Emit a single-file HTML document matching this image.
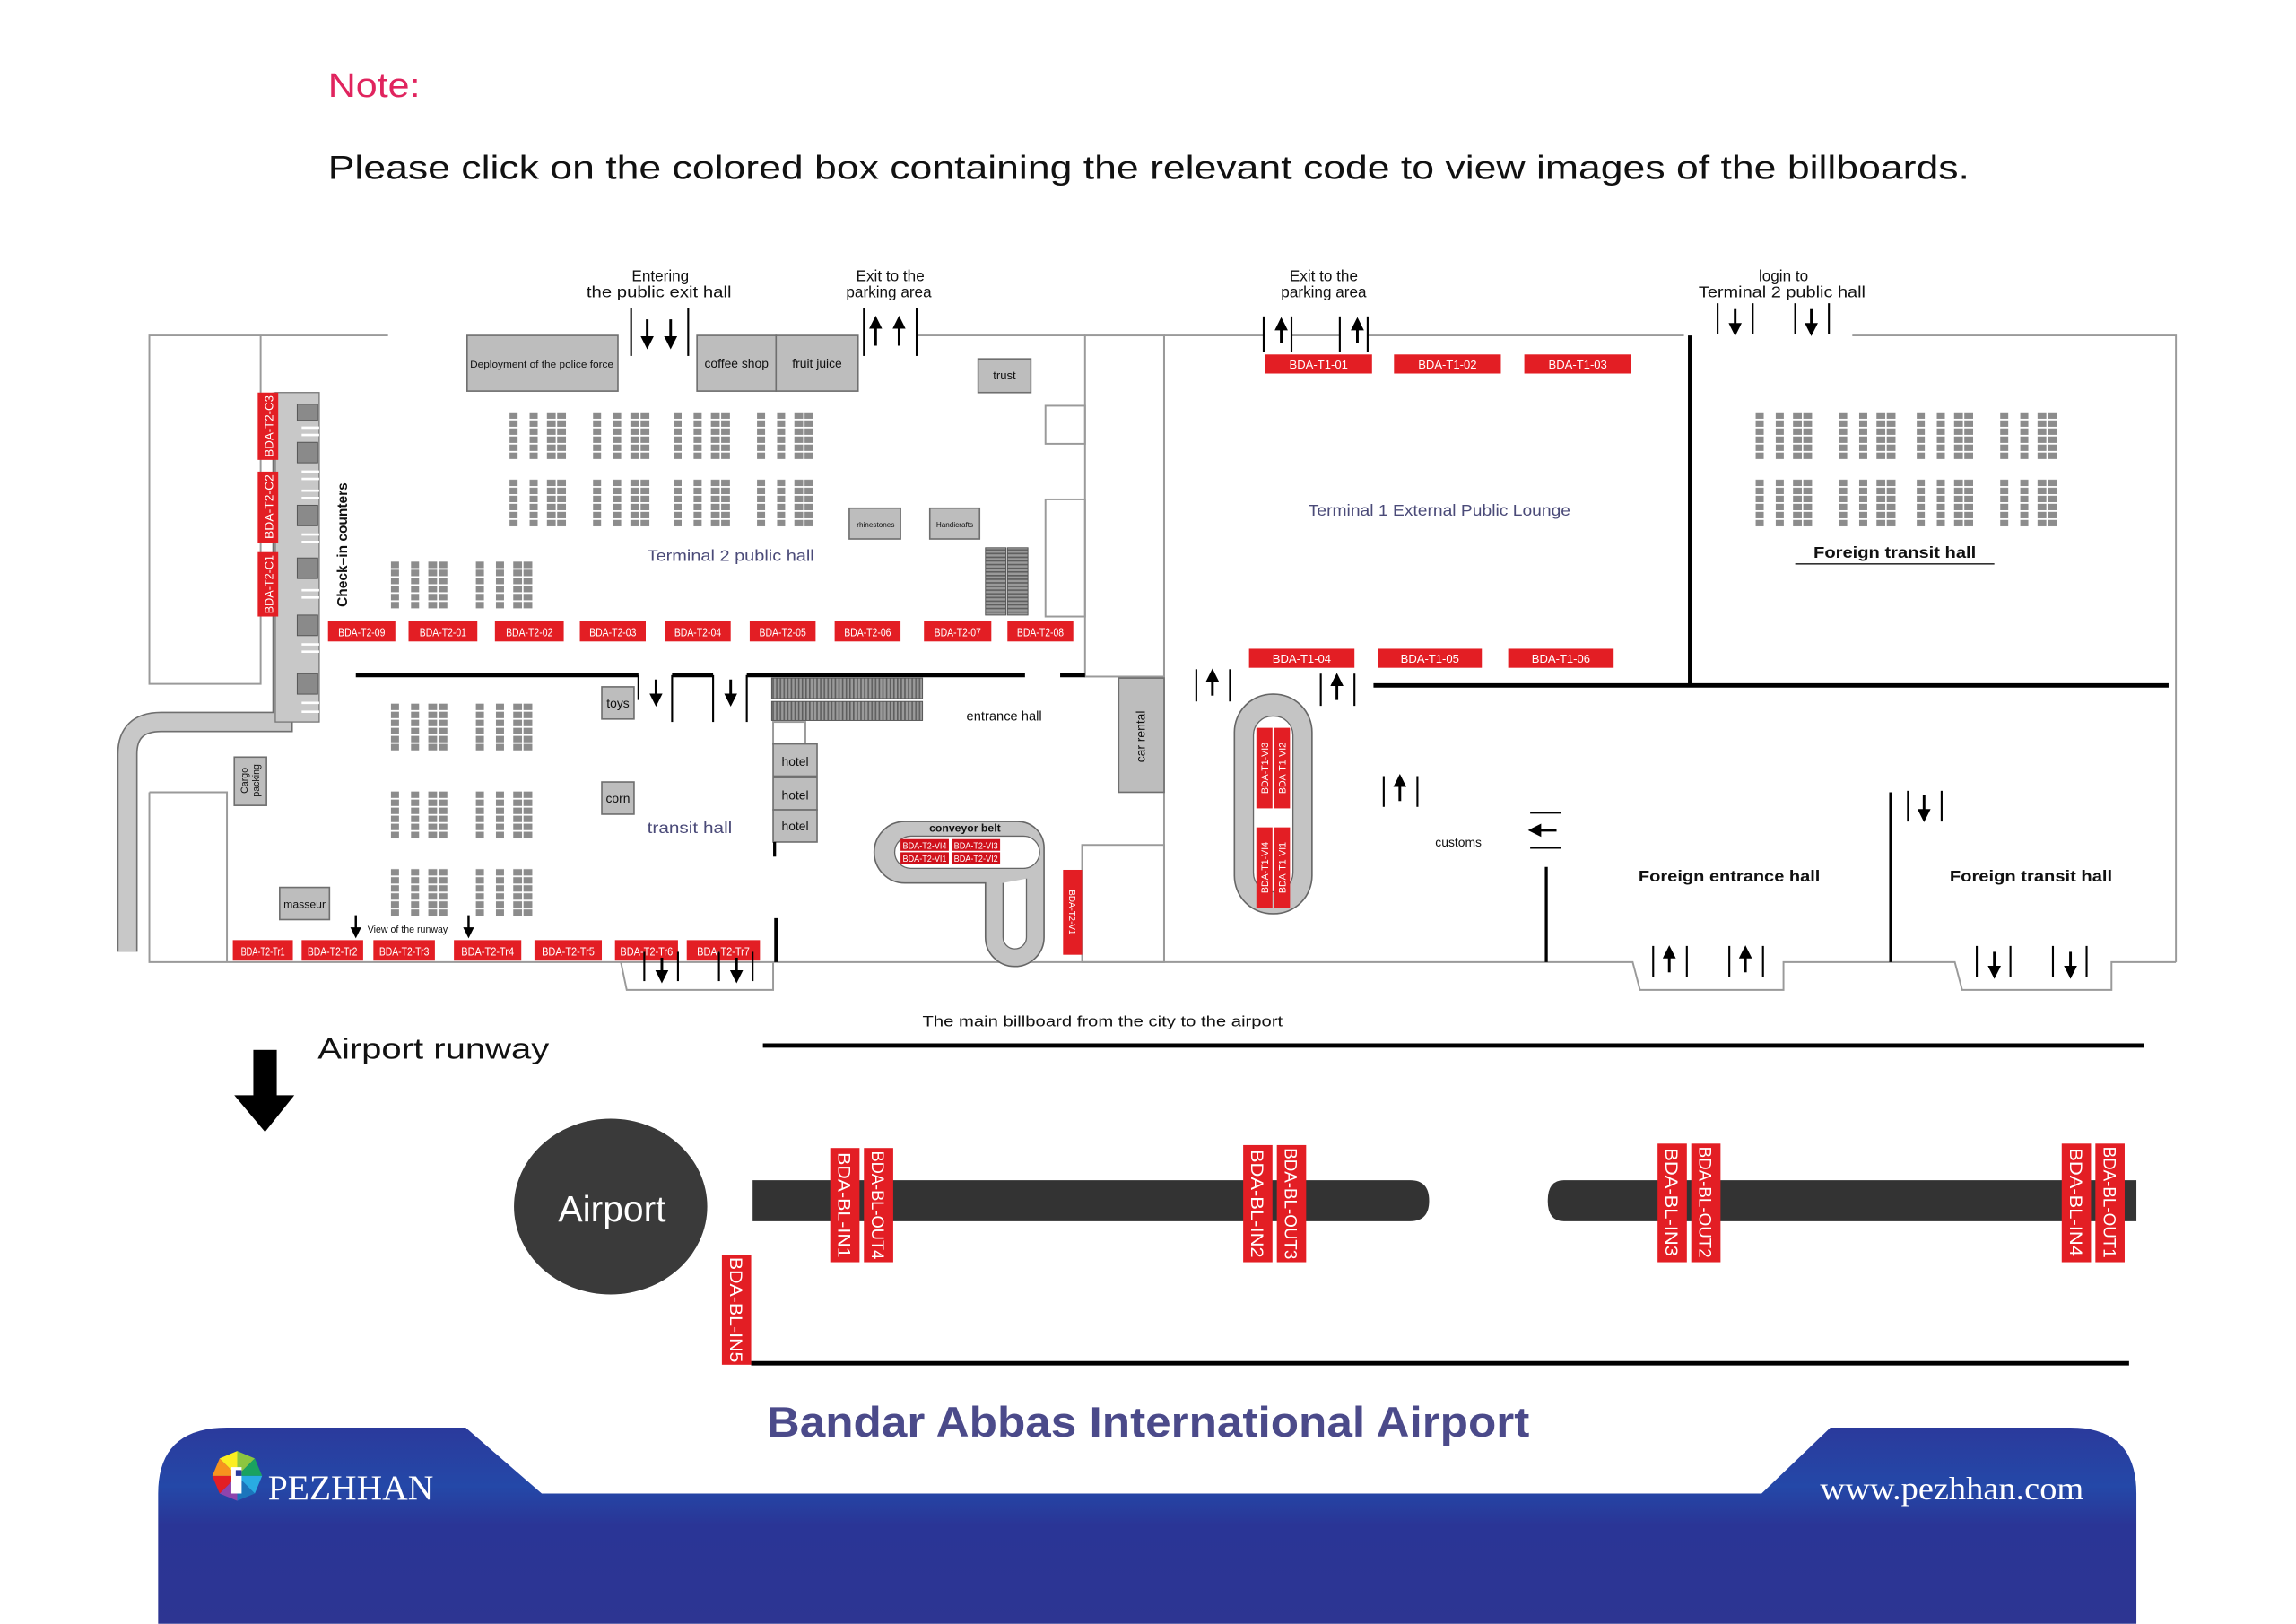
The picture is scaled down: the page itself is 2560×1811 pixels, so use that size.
<!DOCTYPE html>
<html><head><meta charset="utf-8"><style>
html,body{margin:0;padding:0;background:#fff}
svg{display:block}
text{font-family:"Liberation Sans",sans-serif}
.lbl{font-size:8px;fill:#fff;text-anchor:middle}
.g{fill:#bdbdbd;stroke:#6f6f6f;stroke-width:1}
.wall{stroke:#9a9a9a;stroke-width:1.2;fill:none}
.blk{stroke:#000;stroke-width:3;fill:none}
.gl{stroke:#000;stroke-width:1.3}
.tb{font-size:10.5px;fill:#111;text-anchor:middle}
</style></head><body>
<svg width="2560" height="1811" viewBox="0 0 1568 1109" xmlns="http://www.w3.org/2000/svg">
<defs>
<pattern id="sp" patternUnits="userSpaceOnUse" width="100" height="5.5"><rect x="0" y="0.5" width="100" height="4.4" fill="#8c8c8c"/></pattern>
<g id="sg">
<rect x="0" y="0" width="5.5" height="33" fill="url(#sp)"/>
<rect x="13.7" y="0" width="5.5" height="33" fill="url(#sp)"/>
<rect x="25.5" y="0" width="6" height="33" fill="url(#sp)"/>
<rect x="32.5" y="0" width="6" height="33" fill="url(#sp)"/>
</g>
<pattern id="esc" patternUnits="userSpaceOnUse" width="2.5" height="10"><rect width="2.5" height="10" fill="#9a9a9a"/><rect width="1" height="10" fill="#5e5e5e"/></pattern>
<pattern id="escv" patternUnits="userSpaceOnUse" width="10" height="2.5"><rect width="10" height="2.5" fill="#9a9a9a"/><rect width="10" height="1" fill="#5e5e5e"/></pattern>
<linearGradient id="bg" x1="0" y1="0" x2="0" y2="1"><stop offset="0" stop-color="#2b3a9c"/><stop offset="0.3" stop-color="#2448a8"/><stop offset="0.5" stop-color="#2a3596"/><stop offset="1" stop-color="#2d3592"/></linearGradient>
<marker id="ah" viewBox="0 0 10 10" refX="5" refY="5" markerWidth="5" markerHeight="5" orient="auto"><path d="M0,0 L10,5 L0,10 z" fill="#000"/></marker>
</defs>

<!-- header -->
<text x="224" y="66" font-size="23" fill="#e0245e" textLength="63" lengthAdjust="spacingAndGlyphs">Note:</text>
<text x="224" y="122" font-size="22.5" fill="#111" textLength="1121" lengthAdjust="spacingAndGlyphs">Please click on the colored box containing the relevant code to view images of the billboards.</text>

<!-- ===== T2 walls ===== -->
<path class="wall" d="M265,229 H102 V467 H178 V229"/>
<path class="wall" d="M102,541 H155 V657 M102,541 V657 H530"/>
<path class="wall" d="M626,229 H741"/>
<rect x="741" y="229" width="54" height="233" class="wall"/>
<rect x="714" y="277" width="27" height="26" class="wall"/>
<rect x="714" y="341" width="27" height="80" class="wall"/>
<rect x="739" y="577" width="56" height="80" class="wall"/>
<path class="wall" d="M530,657 H795 M795,229 V657"/>
<path class="wall" d="M424,657 L428,676 H528 V657"/>

<!-- jetway / check-in strip -->
<path d="M87,650 V515 Q87,493 110,493 H193 V268" fill="none" stroke="#6f6f6f" stroke-width="14"/>
<path d="M87,650 V515 Q87,493 110,493 H193 V268" fill="none" stroke="#c8c8c8" stroke-width="12"/>
<rect x="188" y="268" width="30" height="225" fill="#c8c8c8" stroke="#777" stroke-width="0.8"/>
<g fill="#8a8a8a" stroke="#555" stroke-width="0.6">
<rect x="203" y="276" width="14" height="11"/><rect x="203" y="302" width="14" height="14"/><rect x="203" y="345" width="14" height="14"/><rect x="203" y="381" width="14" height="14"/><rect x="203" y="420" width="14" height="14"/><rect x="203" y="460" width="14" height="14"/>
</g>
<g stroke="#fff" stroke-width="1.6">
<path d="M206,292 H218 M206,297 H218 M206,322 H218 M206,327 H218 M206,335 H218 M206,340 H218 M206,365 H218 M206,370 H218 M206,403 H218 M206,408 H218 M206,440 H218 M206,445 H218 M206,480 H218 M206,486 H218"/>
</g>
<rect x="176" y="268" width="14" height="46" fill="#e31e24"/>
<rect x="176" y="322" width="14" height="49" fill="#e31e24"/>
<rect x="176" y="377" width="14" height="44" fill="#e31e24"/>
<text class="lbl" transform="translate(186.5,291) rotate(-90)" textLength="42" lengthAdjust="spacingAndGlyphs">BDA-T2-C3</text>
<text class="lbl" transform="translate(186.5,346) rotate(-90)" textLength="44" lengthAdjust="spacingAndGlyphs">BDA-T2-C2</text>
<text class="lbl" transform="translate(186.5,399) rotate(-90)" textLength="40" lengthAdjust="spacingAndGlyphs">BDA-T2-C1</text>
<text transform="translate(237,372) rotate(-90)" font-size="9.5" fill="#111" font-weight="bold" text-anchor="middle">Check–in counters</text>

<!-- top labels -->
<text class="tb" x="451" y="192">Entering</text>
<text class="tb" x="450" y="203" textLength="99" lengthAdjust="spacingAndGlyphs">the public exit hall</text>
<text class="tb" x="608" y="192">Exit to the</text>
<text class="tb" x="607" y="203">parking area</text>
<text class="tb" x="904" y="192">Exit to the</text>
<text class="tb" x="904" y="203">parking area</text>
<text class="tb" x="1218" y="192">login to</text>
<text class="tb" x="1217" y="203" textLength="114" lengthAdjust="spacingAndGlyphs">Terminal 2 public hall</text>

<!-- shops -->
<rect x="319" y="229" width="103" height="38" class="g"/>
<text x="370" y="251" font-size="6.5" text-anchor="middle" fill="#111" textLength="98" lengthAdjust="spacingAndGlyphs">Deployment of the police force</text>
<rect x="476" y="229" width="54" height="38" class="g"/>
<rect x="530" y="229" width="56" height="38" class="g"/>
<text x="503" y="251" font-size="8.5" text-anchor="middle" fill="#111">coffee shop</text>
<text x="558" y="251" font-size="8.5" text-anchor="middle" fill="#111">fruit juice</text>
<rect x="668" y="245" width="36" height="23" class="g"/>
<text x="686" y="259" font-size="8" text-anchor="middle" fill="#111">trust</text>
<rect x="580" y="347" width="35" height="21" class="g"/>
<text x="598" y="360" font-size="5" text-anchor="middle" fill="#111">rhinestones</text>
<rect x="635" y="347" width="34" height="21" class="g"/>
<text x="652" y="360" font-size="5" text-anchor="middle" fill="#111">Handicrafts</text>
<rect x="673" y="374" width="14" height="46" fill="url(#escv)" stroke="#555" stroke-width="0.6"/>
<rect x="688" y="374" width="14" height="46" fill="url(#escv)" stroke="#555" stroke-width="0.6"/>

<!-- top gates T2 -->
<g class="gl">
<line x1="431" y1="210" x2="431" y2="243"/><line x1="470" y1="210" x2="470" y2="243"/>
<line x1="590" y1="210" x2="590" y2="243"/><line x1="626" y1="210" x2="626" y2="243"/>
</g>
<g stroke="#000" stroke-width="1.8" marker-end="url(#ah)">
<line x1="442" y1="218" x2="442" y2="234"/><line x1="458" y1="218" x2="458" y2="234"/>
<line x1="598" y1="236" x2="598" y2="220"/><line x1="614" y1="236" x2="614" y2="220"/>
</g>

<!-- seats -->
<use href="#sg" x="348" y="281"/><use href="#sg" x="405" y="281"/><use href="#sg" x="460" y="281"/><use href="#sg" x="517" y="281"/>
<use href="#sg" x="348" y="327"/><use href="#sg" x="405" y="327"/><use href="#sg" x="460" y="327"/><use href="#sg" x="517" y="327"/>
<use href="#sg" x="267" y="383"/><use href="#sg" x="325" y="383"/>
<use href="#sg" x="267" y="480"/><use href="#sg" x="325" y="480"/>
<use href="#sg" x="267" y="540"/><use href="#sg" x="325" y="540"/>
<use href="#sg" x="267" y="593"/><use href="#sg" x="325" y="593"/>
<use href="#sg" x="1199" y="281"/><use href="#sg" x="1256" y="281"/><use href="#sg" x="1309" y="281"/><use href="#sg" x="1366" y="281"/>
<use href="#sg" x="1199" y="327"/><use href="#sg" x="1256" y="327"/><use href="#sg" x="1309" y="327"/><use href="#sg" x="1366" y="327"/>

<text x="499" y="383" font-size="10.5" fill="#4a4a78" text-anchor="middle" textLength="114" lengthAdjust="spacingAndGlyphs">Terminal 2 public hall</text>

<!-- red row T2 -->
<g fill="#e31e24">
<rect x="224" y="424" width="46" height="14"/><rect x="279" y="424" width="47" height="14"/><rect x="338" y="424" width="47" height="14"/><rect x="396" y="424" width="45" height="14"/><rect x="454" y="424" width="45" height="14"/><rect x="512" y="424" width="45" height="14"/><rect x="570" y="424" width="45" height="14"/><rect x="631" y="424" width="46" height="14"/><rect x="688" y="424" width="45" height="14"/>
</g>
<g class="lbl">
<text x="247" y="434.5" textLength="32" lengthAdjust="spacingAndGlyphs">BDA-T2-09</text>
<text x="302.5" y="434.5" textLength="32" lengthAdjust="spacingAndGlyphs">BDA-T2-01</text>
<text x="361.5" y="434.5" textLength="32" lengthAdjust="spacingAndGlyphs">BDA-T2-02</text>
<text x="418.5" y="434.5" textLength="32" lengthAdjust="spacingAndGlyphs">BDA-T2-03</text>
<text x="476.5" y="434.5" textLength="32" lengthAdjust="spacingAndGlyphs">BDA-T2-04</text>
<text x="534.5" y="434.5" textLength="32" lengthAdjust="spacingAndGlyphs">BDA-T2-05</text>
<text x="592.5" y="434.5" textLength="32" lengthAdjust="spacingAndGlyphs">BDA-T2-06</text>
<text x="654" y="434.5" textLength="32" lengthAdjust="spacingAndGlyphs">BDA-T2-07</text>
<text x="710.5" y="434.5" textLength="32" lengthAdjust="spacingAndGlyphs">BDA-T2-08</text>
</g>

<!-- divider T2 -->
<path class="blk" d="M243,461 H436"/>
<path class="blk" d="M459,461 H487"/>
<path class="blk" d="M510,461 H700"/>
<path class="blk" d="M724,461 H741"/>
<g class="gl"><line x1="436" y1="461" x2="436" y2="478"/><line x1="459" y1="461" x2="459" y2="493"/><line x1="487" y1="461" x2="487" y2="493"/><line x1="510" y1="461" x2="510" y2="493"/></g>
<g stroke="#000" stroke-width="1.8" marker-end="url(#ah)"><line x1="448" y1="464" x2="448" y2="478"/><line x1="499" y1="464" x2="499" y2="478"/></g>
<rect x="527" y="463" width="103" height="14" fill="url(#esc)" stroke="#555" stroke-width="0.6"/>
<rect x="527" y="479" width="103" height="13" fill="url(#esc)" stroke="#555" stroke-width="0.6"/>
<text x="660" y="492" font-size="9" fill="#111">entrance hall</text>

<rect x="411" y="469" width="22" height="22" class="g"/><text x="422" y="483" font-size="8.5" text-anchor="middle" fill="#111">toys</text>
<rect x="411" y="534" width="22" height="22" class="g"/><text x="422" y="548" font-size="8.5" text-anchor="middle" fill="#111">corn</text>
<rect x="528" y="493" width="22" height="15" class="wall"/>
<rect x="528" y="508" width="30" height="22" class="g"/><rect x="528" y="531" width="30" height="22" class="g"/><rect x="528" y="553" width="30" height="22" class="g"/>
<text x="543" y="523" font-size="8.5" text-anchor="middle" fill="#111">hotel</text>
<text x="543" y="546" font-size="8.5" text-anchor="middle" fill="#111">hotel</text>
<text x="543" y="567" font-size="8.5" text-anchor="middle" fill="#111">hotel</text>
<line x1="529" y1="575" x2="529" y2="585" stroke="#000" stroke-width="2"/>
<text x="442" y="569" font-size="10.5" fill="#4a4a78" textLength="58" lengthAdjust="spacingAndGlyphs">transit hall</text>

<rect x="764" y="463" width="31" height="78" class="g"/>
<text transform="translate(782,503) rotate(-90)" font-size="8.5" text-anchor="middle" fill="#111">car rental</text>

<!-- conveyor T2 -->
<path d="M618,561 H695 A18,18 0 0 1 713,579 V640 A20,20 0 0 1 673,640 V603 H618 A21,21 0 0 1 618,561 Z" fill="#c4c4c4" stroke="#666" stroke-width="1"/>
<path d="M622,571 H699 A11,11 0 0 1 699,593 H622 A11,11 0 0 1 622,571 Z" fill="#fff" stroke="#666" stroke-width="0.8"/>
<path d="M685,603 V640 A8,8 0 0 0 701,640 V600" fill="#fff" stroke="#666" stroke-width="0.8"/>
<text x="659" y="568" font-size="7.5" fill="#111" text-anchor="middle" font-weight="bold">conveyor belt</text>
<g fill="#d0111b"><rect x="615" y="573" width="33" height="8"/><rect x="650" y="573" width="33" height="8"/><rect x="615" y="582" width="33" height="8"/><rect x="650" y="582" width="33" height="8"/></g>
<g font-size="6" fill="#fff" text-anchor="middle">
<text x="631.5" y="579.5" textLength="30" lengthAdjust="spacingAndGlyphs">BDA-T2-VI4</text>
<text x="666.5" y="579.5" textLength="30" lengthAdjust="spacingAndGlyphs">BDA-T2-VI3</text>
<text x="631.5" y="588.5" textLength="30" lengthAdjust="spacingAndGlyphs">BDA-T2-VI1</text>
<text x="666.5" y="588.5" textLength="30" lengthAdjust="spacingAndGlyphs">BDA-T2-VI2</text>
</g>
<rect x="726" y="594" width="13" height="58" fill="#e31e24"/>
<text transform="translate(730,623) rotate(90)" font-size="6" fill="#fff" text-anchor="middle">BDA-T2-V1</text>
<line x1="530" y1="627" x2="530" y2="657" stroke="#000" stroke-width="2.5"/>

<rect x="191" y="606" width="34" height="22" class="g"/><text x="208" y="620" font-size="7.5" text-anchor="middle" fill="#111">masseur</text>
<rect x="160" y="517" width="22" height="33" class="g"/>
<text transform="translate(169,533) rotate(-90)" font-size="6.5" text-anchor="middle" fill="#111">Cargo</text>
<text transform="translate(177,533) rotate(-90)" font-size="6.5" text-anchor="middle" fill="#111">packing</text>

<g stroke="#000" stroke-width="1.5" marker-end="url(#ah)"><line x1="243" y1="625" x2="243" y2="637"/><line x1="320" y1="625" x2="320" y2="637"/></g>
<text x="251" y="637" font-size="6.5" fill="#111">View of the runway</text>

<g fill="#e31e24">
<rect x="159" y="642" width="41" height="14"/><rect x="206" y="642" width="42" height="14"/><rect x="255" y="642" width="42" height="14"/><rect x="310" y="642" width="46" height="14"/><rect x="365" y="642" width="46" height="14"/><rect x="420" y="642" width="43" height="14"/><rect x="469" y="642" width="50" height="14"/>
</g>
<g class="lbl">
<text x="179.5" y="652.5" textLength="30" lengthAdjust="spacingAndGlyphs">BDA-T2-Tr1</text>
<text x="227" y="652.5" textLength="34" lengthAdjust="spacingAndGlyphs">BDA-T2-Tr2</text>
<text x="276" y="652.5" textLength="34" lengthAdjust="spacingAndGlyphs">BDA-T2-Tr3</text>
<text x="333" y="652.5" textLength="36" lengthAdjust="spacingAndGlyphs">BDA-T2-Tr4</text>
<text x="388" y="652.5" textLength="36" lengthAdjust="spacingAndGlyphs">BDA-T2-Tr5</text>
<text x="441.5" y="652.5" textLength="36" lengthAdjust="spacingAndGlyphs">BDA-T2-Tr6</text>
<text x="494" y="652.5" textLength="36" lengthAdjust="spacingAndGlyphs">BDA-T2-Tr7</text>
</g>
<g class="gl"><line x1="440" y1="650" x2="440" y2="670"/><line x1="463" y1="650" x2="463" y2="670"/><line x1="491" y1="650" x2="491" y2="670"/><line x1="514" y1="650" x2="514" y2="670"/></g>
<g stroke="#000" stroke-width="1.8" marker-end="url(#ah)"><line x1="452" y1="654" x2="452" y2="667"/><line x1="503" y1="654" x2="503" y2="667"/></g>

<!-- ===== T1 ===== -->
<path class="wall" d="M795,229 H863 M882,229 H915 M934,229 H1150"/>
<path class="wall" d="M1265,229 H1486 V657"/>
<path class="wall" d="M795,657 H1115 L1120,676 H1218 V657 H1335 L1340,676 H1442 V657 H1486"/>
<line x1="1154" y1="229" x2="1154" y2="469" stroke="#000" stroke-width="2.5"/>
<path class="blk" d="M938,468 H1481"/>
<g class="gl">
<line x1="863" y1="216" x2="863" y2="240"/><line x1="882" y1="216" x2="882" y2="240"/><line x1="915" y1="216" x2="915" y2="240"/><line x1="934" y1="216" x2="934" y2="240"/>
<line x1="1173" y1="207" x2="1173" y2="228"/><line x1="1197" y1="207" x2="1197" y2="228"/><line x1="1226" y1="207" x2="1226" y2="228"/><line x1="1249" y1="207" x2="1249" y2="228"/>
<line x1="817" y1="457" x2="817" y2="479"/><line x1="840" y1="457" x2="840" y2="479"/><line x1="902" y1="460" x2="902" y2="482"/><line x1="925" y1="460" x2="925" y2="482"/>
<line x1="945" y1="530" x2="945" y2="551"/><line x1="968" y1="530" x2="968" y2="551"/>
<line x1="1303" y1="540" x2="1303" y2="561"/><line x1="1326" y1="540" x2="1326" y2="561"/>
<line x1="1129" y1="646" x2="1129" y2="667"/><line x1="1152" y1="646" x2="1152" y2="667"/><line x1="1181" y1="646" x2="1181" y2="667"/><line x1="1204" y1="646" x2="1204" y2="667"/>
<line x1="1350" y1="646" x2="1350" y2="667"/><line x1="1373" y1="646" x2="1373" y2="667"/><line x1="1402" y1="646" x2="1402" y2="667"/><line x1="1425" y1="646" x2="1425" y2="667"/>
</g>
<g stroke="#000" stroke-width="1.8" marker-end="url(#ah)">
<line x1="875" y1="234" x2="875" y2="221"/><line x1="927" y1="234" x2="927" y2="221"/>
<line x1="1185" y1="211" x2="1185" y2="225"/><line x1="1237" y1="211" x2="1237" y2="225"/>
<line x1="828" y1="475" x2="828" y2="461"/><line x1="913" y1="478" x2="913" y2="464"/>
<line x1="956" y1="547" x2="956" y2="533"/>
<line x1="1314" y1="543" x2="1314" y2="557"/>
<line x1="1140" y1="664" x2="1140" y2="650"/><line x1="1192" y1="664" x2="1192" y2="650"/>
<line x1="1362" y1="650" x2="1362" y2="664"/><line x1="1414" y1="650" x2="1414" y2="664"/>
<line x1="1063" y1="567" x2="1048" y2="567"/>
</g>
<g fill="#e31e24">
<rect x="864" y="242" width="73" height="13"/><rect x="952" y="242" width="73" height="13"/><rect x="1041" y="242" width="73" height="13"/>
<rect x="853" y="443" width="72" height="13"/><rect x="941" y="443" width="71" height="13"/><rect x="1030" y="443" width="72" height="13"/>
</g>
<g class="lbl">
<text x="900.5" y="251.5" textLength="40" lengthAdjust="spacingAndGlyphs">BDA-T1-01</text>
<text x="988.5" y="251.5" textLength="40" lengthAdjust="spacingAndGlyphs">BDA-T1-02</text>
<text x="1077.5" y="251.5" textLength="40" lengthAdjust="spacingAndGlyphs">BDA-T1-03</text>
<text x="889" y="452.5" textLength="40" lengthAdjust="spacingAndGlyphs">BDA-T1-04</text>
<text x="976.5" y="452.5" textLength="40" lengthAdjust="spacingAndGlyphs">BDA-T1-05</text>
<text x="1066" y="452.5" textLength="40" lengthAdjust="spacingAndGlyphs">BDA-T1-06</text>
</g>
<text x="983" y="352" font-size="10.5" fill="#4a4a78" text-anchor="middle" textLength="179" lengthAdjust="spacingAndGlyphs">Terminal 1 External Public Lounge</text>
<text x="1294" y="381" font-size="11" fill="#111" text-anchor="middle" font-weight="bold" textLength="111" lengthAdjust="spacingAndGlyphs">Foreign transit hall</text>
<line x1="1226" y1="385" x2="1362" y2="385" stroke="#333" stroke-width="1"/>

<!-- T1 conveyor -->
<rect x="843" y="474" width="53" height="150" rx="26" fill="#c4c4c4" stroke="#666" stroke-width="1"/>
<rect x="856" y="489" width="27" height="120" rx="13" fill="#fff" stroke="#666" stroke-width="0.8"/>
<g fill="#e31e24"><rect x="858" y="497" width="11" height="55"/><rect x="870" y="497" width="11" height="55"/><rect x="858" y="565" width="11" height="55"/><rect x="870" y="565" width="11" height="55"/></g>
<g font-size="6.5" fill="#fff" text-anchor="middle">
<text transform="translate(866,524.5) rotate(-90)">BDA-T1-VI3</text>
<text transform="translate(878,524.5) rotate(-90)">BDA-T1-VI2</text>
<text transform="translate(866,592.5) rotate(-90)">BDA-T1-VI4</text>
<text transform="translate(878,592.5) rotate(-90)">BDA-T1-VI1</text>
</g>
<text x="996" y="578" font-size="8.5" fill="#111" text-anchor="middle">customs</text>
<g stroke="#000" stroke-width="1.3"><line x1="1045" y1="555" x2="1066" y2="555"/><line x1="1045" y1="579" x2="1066" y2="579"/></g>
<line x1="1056" y1="592" x2="1056" y2="657" stroke="#000" stroke-width="2"/>
<line x1="1291" y1="541" x2="1291" y2="657" stroke="#000" stroke-width="1.6"/>
<text x="1181" y="602" font-size="11" fill="#111" text-anchor="middle" font-weight="bold" textLength="124" lengthAdjust="spacingAndGlyphs">Foreign entrance hall</text>
<text x="1387" y="602" font-size="11" fill="#111" text-anchor="middle" font-weight="bold" textLength="111" lengthAdjust="spacingAndGlyphs">Foreign transit hall</text>

<!-- ===== roads ===== -->
<text x="753" y="701" font-size="10" fill="#111" text-anchor="middle" textLength="246" lengthAdjust="spacingAndGlyphs">The main billboard from the city to the airport</text>
<line x1="521" y1="714" x2="1464" y2="714" stroke="#000" stroke-width="3"/>
<line x1="513" y1="931" x2="1454" y2="931" stroke="#000" stroke-width="3"/>
<text x="217" y="723" font-size="20" fill="#111" textLength="158" lengthAdjust="spacingAndGlyphs">Airport runway</text>
<rect x="173" y="717" width="16" height="33" fill="#000"/>
<path d="M160,748 H201 L181,773 Z" fill="#000"/>
<ellipse cx="417" cy="824" rx="66" ry="60" fill="#3a3a3a"/>
<text x="418" y="834" font-size="25" fill="#fff" text-anchor="middle">Airport</text>
<path d="M514,806 H963 Q976,806 976,820 Q976,834 963,834 H514 Z" fill="#333"/>
<path d="M1459,806 H1068 Q1057,806 1057,820 Q1057,834 1068,834 H1459 Z" fill="#333"/>
<g fill="#e31e24">
<rect x="567" y="784" width="20" height="78"/><rect x="590" y="784" width="20" height="78"/>
<rect x="849" y="782" width="20" height="80"/><rect x="872" y="782" width="20" height="80"/>
<rect x="1132" y="781" width="20" height="81"/><rect x="1155" y="781" width="20" height="81"/>
<rect x="1408" y="781" width="20" height="81"/><rect x="1431" y="781" width="20" height="81"/>
<rect x="493" y="857" width="20" height="75"/>
</g>
<g font-size="12" fill="#fff" text-anchor="middle">
<text transform="translate(572.5,823) rotate(90)" textLength="72" lengthAdjust="spacingAndGlyphs">BDA-BL-IN1</text>
<text transform="translate(595.5,823) rotate(90)" textLength="74" lengthAdjust="spacingAndGlyphs">BDA-BL-OUT4</text>
<text transform="translate(854.5,822) rotate(90)" textLength="74" lengthAdjust="spacingAndGlyphs">BDA-BL-IN2</text>
<text transform="translate(877.5,822) rotate(90)" textLength="76" lengthAdjust="spacingAndGlyphs">BDA-BL-OUT3</text>
<text transform="translate(1137.5,821) rotate(90)" textLength="74" lengthAdjust="spacingAndGlyphs">BDA-BL-IN3</text>
<text transform="translate(1160.5,821) rotate(90)" textLength="76" lengthAdjust="spacingAndGlyphs">BDA-BL-OUT2</text>
<text transform="translate(1413.5,821) rotate(90)" textLength="74" lengthAdjust="spacingAndGlyphs">BDA-BL-IN4</text>
<text transform="translate(1436.5,821) rotate(90)" textLength="76" lengthAdjust="spacingAndGlyphs">BDA-BL-OUT1</text>
<text transform="translate(498.5,894.5) rotate(90)" textLength="72" lengthAdjust="spacingAndGlyphs">BDA-BL-IN5</text>
</g>

<text x="784" y="981" font-size="29" font-weight="bold" fill="#4b4a8a" text-anchor="middle" textLength="521" lengthAdjust="spacingAndGlyphs">Bandar Abbas International Airport</text>

<!-- footer -->
<path d="M108,1109 V1020 Q108,975 155,975 H318 L370,1020 H1203 L1250,975 H1414 Q1459,975 1459,1020 V1109 Z" fill="url(#bg)"/>
<g transform="translate(162,1008)">
<path d="M0,-17 L12,-12 L0,0 Z" fill="#8cc63f"/><path d="M12,-12 L17,0 L0,0 Z" fill="#1aa260"/>
<path d="M17,0 L12,12 L0,0 Z" fill="#29abe2"/><path d="M12,12 L0,17 L0,0 Z" fill="#1b75bc"/>
<path d="M0,17 L-12,12 L0,0 Z" fill="#8e44ad"/><path d="M-12,12 L-17,0 L0,0 Z" fill="#e31e24"/>
<path d="M-17,0 L-12,-12 L0,0 Z" fill="#f7931e"/><path d="M-12,-12 L0,-17 L0,0 Z" fill="#fcee21"/>
<rect x="-4" y="-6" width="7" height="18" fill="#fff"/><rect x="-1" y="-4" width="4" height="4" fill="#2b3a9c"/>
</g>
<text x="183" y="1024" font-size="24" fill="#fff" style="font-family:'Liberation Serif',serif" textLength="113" lengthAdjust="spacingAndGlyphs">PEZHHAN</text>
<text x="1423" y="1024" font-size="22" fill="#fff" text-anchor="end" style="font-family:'Liberation Serif',serif" textLength="180" lengthAdjust="spacingAndGlyphs">www.pezhhan.com</text>
</svg>
</body></html>
